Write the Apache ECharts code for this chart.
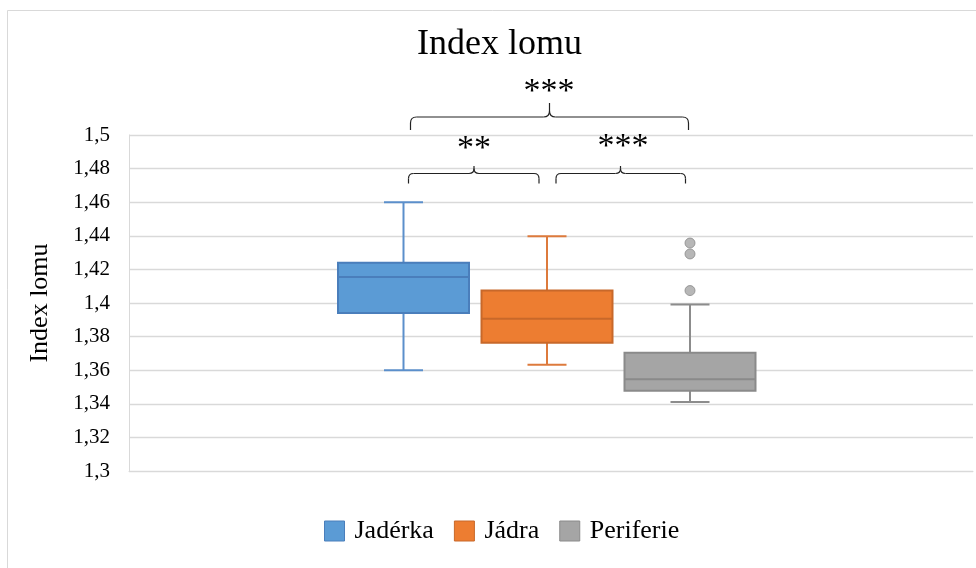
<!DOCTYPE html>
<html>
<head>
<meta charset="utf-8">
<script src="https://cdn.jsdelivr.net/npm/echarts@6/dist/echarts.min.js"></script>
<style>
html,body{margin:0;padding:0;background:#fff;}
#main{width:976px;height:568px;}
</style>
</head>
<body>
<div id="main"></div>
<script>
// ---- data ----
const seriesNames = ['Jadérka', 'Jádra', 'Periferie'];
// [min, Q1, median, Q3, max]
const jaderka = [1.360, 1.394, 1.4155, 1.424, 1.460];
const jadra = [1.3633, 1.3764, 1.3906, 1.4074, 1.4397];
const periferie = [1.3411, 1.3477, 1.3546, 1.3704, 1.3991];
const periferieOutliers = [1.4074, 1.4292, 1.4357];
const yMin = 1.3, yMax = 1.5, yStep = 0.02;
const significance = ['***', '**', '***'];

// ---- styles / layout ----
const fills = ['#5B9BD5', '#ED7D31', '#A5A5A5'];
const borders = ['#4A7EBB', '#C8682A', '#8A8A8A'];
const whiskers = ['#5B8FCB', '#DD7A3C', '#8C8C8C'];
const offsets = [-147.5, -4, 139];
const boxW = 131, capW = 39;
const serif = '"Liberation Serif", "Times New Roman", serif';

const stats = [jaderka, jadra, periferie];

function makeRender(i) {
  return function (params, api) {
    const c = (v) => api.coord([0, v]);
    const x = c(api.value(3))[0] + offsets[i];
    const yMinP = c(api.value(1))[1];
    const yQ1 = c(api.value(2))[1];
    const yMed = c(api.value(3))[1];
    const yQ3 = c(api.value(4))[1];
    const yMaxP = c(api.value(5))[1];
    const ls = { stroke: whiskers[i], lineWidth: 2 };
    return {
      type: 'group',
      children: [
        { type: 'line', shape: { x1: x, y1: yMinP, x2: x, y2: yQ1 }, style: ls },
        { type: 'line', shape: { x1: x, y1: yQ3, x2: x, y2: yMaxP }, style: ls },
        { type: 'line', shape: { x1: x - capW / 2, y1: yMinP, x2: x + capW / 2, y2: yMinP }, style: ls },
        { type: 'line', shape: { x1: x - capW / 2, y1: yMaxP, x2: x + capW / 2, y2: yMaxP }, style: ls },
        { type: 'rect', shape: { x: x - boxW / 2, y: yQ3, width: boxW, height: yQ1 - yQ3 },
          style: { fill: fills[i], stroke: borders[i], lineWidth: 2 } },
        { type: 'line', shape: { x1: x - boxW / 2, y1: yMed, x2: x + boxW / 2, y2: yMed },
          style: { stroke: borders[i], lineWidth: 2 } }
      ]
    };
  };
}

const series = seriesNames.map((name, i) => ({
  name: name,
  type: 'custom',
  renderItem: makeRender(i),
  itemStyle: { color: fills[i], borderColor: borders[i] },
  encode: { x: 0, y: [1, 2, 3, 4, 5] },
  data: [[0].concat(stats[i])],
  z: 3
}));
series.push({
  name: 'Periferie (odlehlé)',
  type: 'scatter',
  symbol: 'circle',
  symbolSize: 10,
  symbolOffset: [offsets[2], 0],
  itemStyle: { color: fills[2], borderColor: borders[2], borderWidth: 1 },
  data: periferieOutliers.map(v => [0, v]),
  z: 4
});

function brace(x0, x1, xc, yEnd, yBar, yTip, r) {
  const st = { fill: 'none', stroke: '#222', lineWidth: 1.2 };
  const L = (a, b, c2, d) => ({ type: 'line', shape: { x1: a, y1: b, x2: c2, y2: d }, style: st, z: 10, silent: true });
  const Q = (a, b, c2, d, cx, cy) => ({ type: 'bezierCurve', shape: { x1: a, y1: b, x2: c2, y2: d, cpx1: cx, cpy1: cy }, style: st, z: 10, silent: true });
  return [
    L(x0, yEnd, x0, yBar + r),
    Q(x0, yBar + r, x0 + r, yBar, x0, yBar),
    L(x0 + r, yBar, xc - r, yBar),
    Q(xc - r, yBar, xc, yBar - r, xc, yBar),
    L(xc, yBar - r, xc, yTip),
    Q(xc, yBar - r, xc + r, yBar, xc, yBar),
    L(xc + r, yBar, x1 - r, yBar),
    Q(x1 - r, yBar, x1, yBar + r, x1, yBar),
    L(x1, yBar + r, x1, yEnd)
  ];
}

const chart = echarts.init(document.getElementById('main'), null, { renderer: 'canvas' });
chart.setOption({
  backgroundColor: '#fff',
  animation: false,
  title: {
    text: 'Index lomu',
    left: 412,
    top: 22,
    textStyle: { fontFamily: serif, fontSize: 36, fontWeight: 'normal', color: '#000' }
  },
  legend: {
    data: seriesNames.map((n, i) => ({ name: n, itemStyle: { color: fills[i], borderColor: borders[i], borderWidth: 1 } })),
    left: 319,
    top: 513,
    icon: 'rect',
    itemWidth: 20,
    itemHeight: 20,
    itemGap: 20,
    textStyle: { fontFamily: serif, fontSize: 26, color: '#000', padding: [0, 0, 0, 5] }
  },
  grid: { left: 129, right: 3, top: 135, bottom: 97, containLabel: false },
  xAxis: {
    type: 'category',
    data: [''],
    axisLine: { show: true, lineStyle: { color: '#d9d9d9', width: 1 } },
    axisTick: { show: false },
    axisLabel: { show: false },
    splitLine: { show: false }
  },
  yAxis: {
    type: 'value',
    min: yMin,
    max: yMax,
    interval: yStep,
    name: 'Index lomu',
    nameLocation: 'middle',
    nameGap: 76,
    nameTextStyle: { fontFamily: serif, fontSize: 26, color: '#000' },
    axisLine: { show: true, lineStyle: { color: '#d9d9d9', width: 1 } },
    axisTick: { show: false },
    axisLabel: {
      fontFamily: serif, fontSize: 21, color: '#000', margin: 19,
      formatter: (v) => String(+v.toFixed(2)).replace('.', ',')
    },
    splitLine: { show: true, lineStyle: { color: '#d9d9d9', width: 1.3 } }
  },
  graphic: [
    { type: 'rect', shape: { x: 7.5, y: 10.5, width: 1000, height: 600 },
      style: { fill: 'none', stroke: '#d9d9d9', lineWidth: 1 }, silent: true, z: -10 }
  ].concat(
    brace(410.5, 688.5, 549.5, 130, 117, 103, 6),
    brace(408.5, 539, 474, 183.5, 173.5, 166, 5),
    brace(556, 685.5, 620.5, 183.5, 173.5, 166, 5),
    [
      { type: 'text', x: 549, y: 92, style: { text: significance[0], font: '34px ' + serif, fill: '#000', align: 'center', verticalAlign: 'middle' }, z: 10 },
      { type: 'text', x: 474, y: 149, style: { text: significance[1], font: '34px ' + serif, fill: '#000', align: 'center', verticalAlign: 'middle' }, z: 10 },
      { type: 'text', x: 623, y: 147, style: { text: significance[2], font: '34px ' + serif, fill: '#000', align: 'center', verticalAlign: 'middle' }, z: 10 }
    ]
  ),
  series: series
});
</script>
</body>
</html>
